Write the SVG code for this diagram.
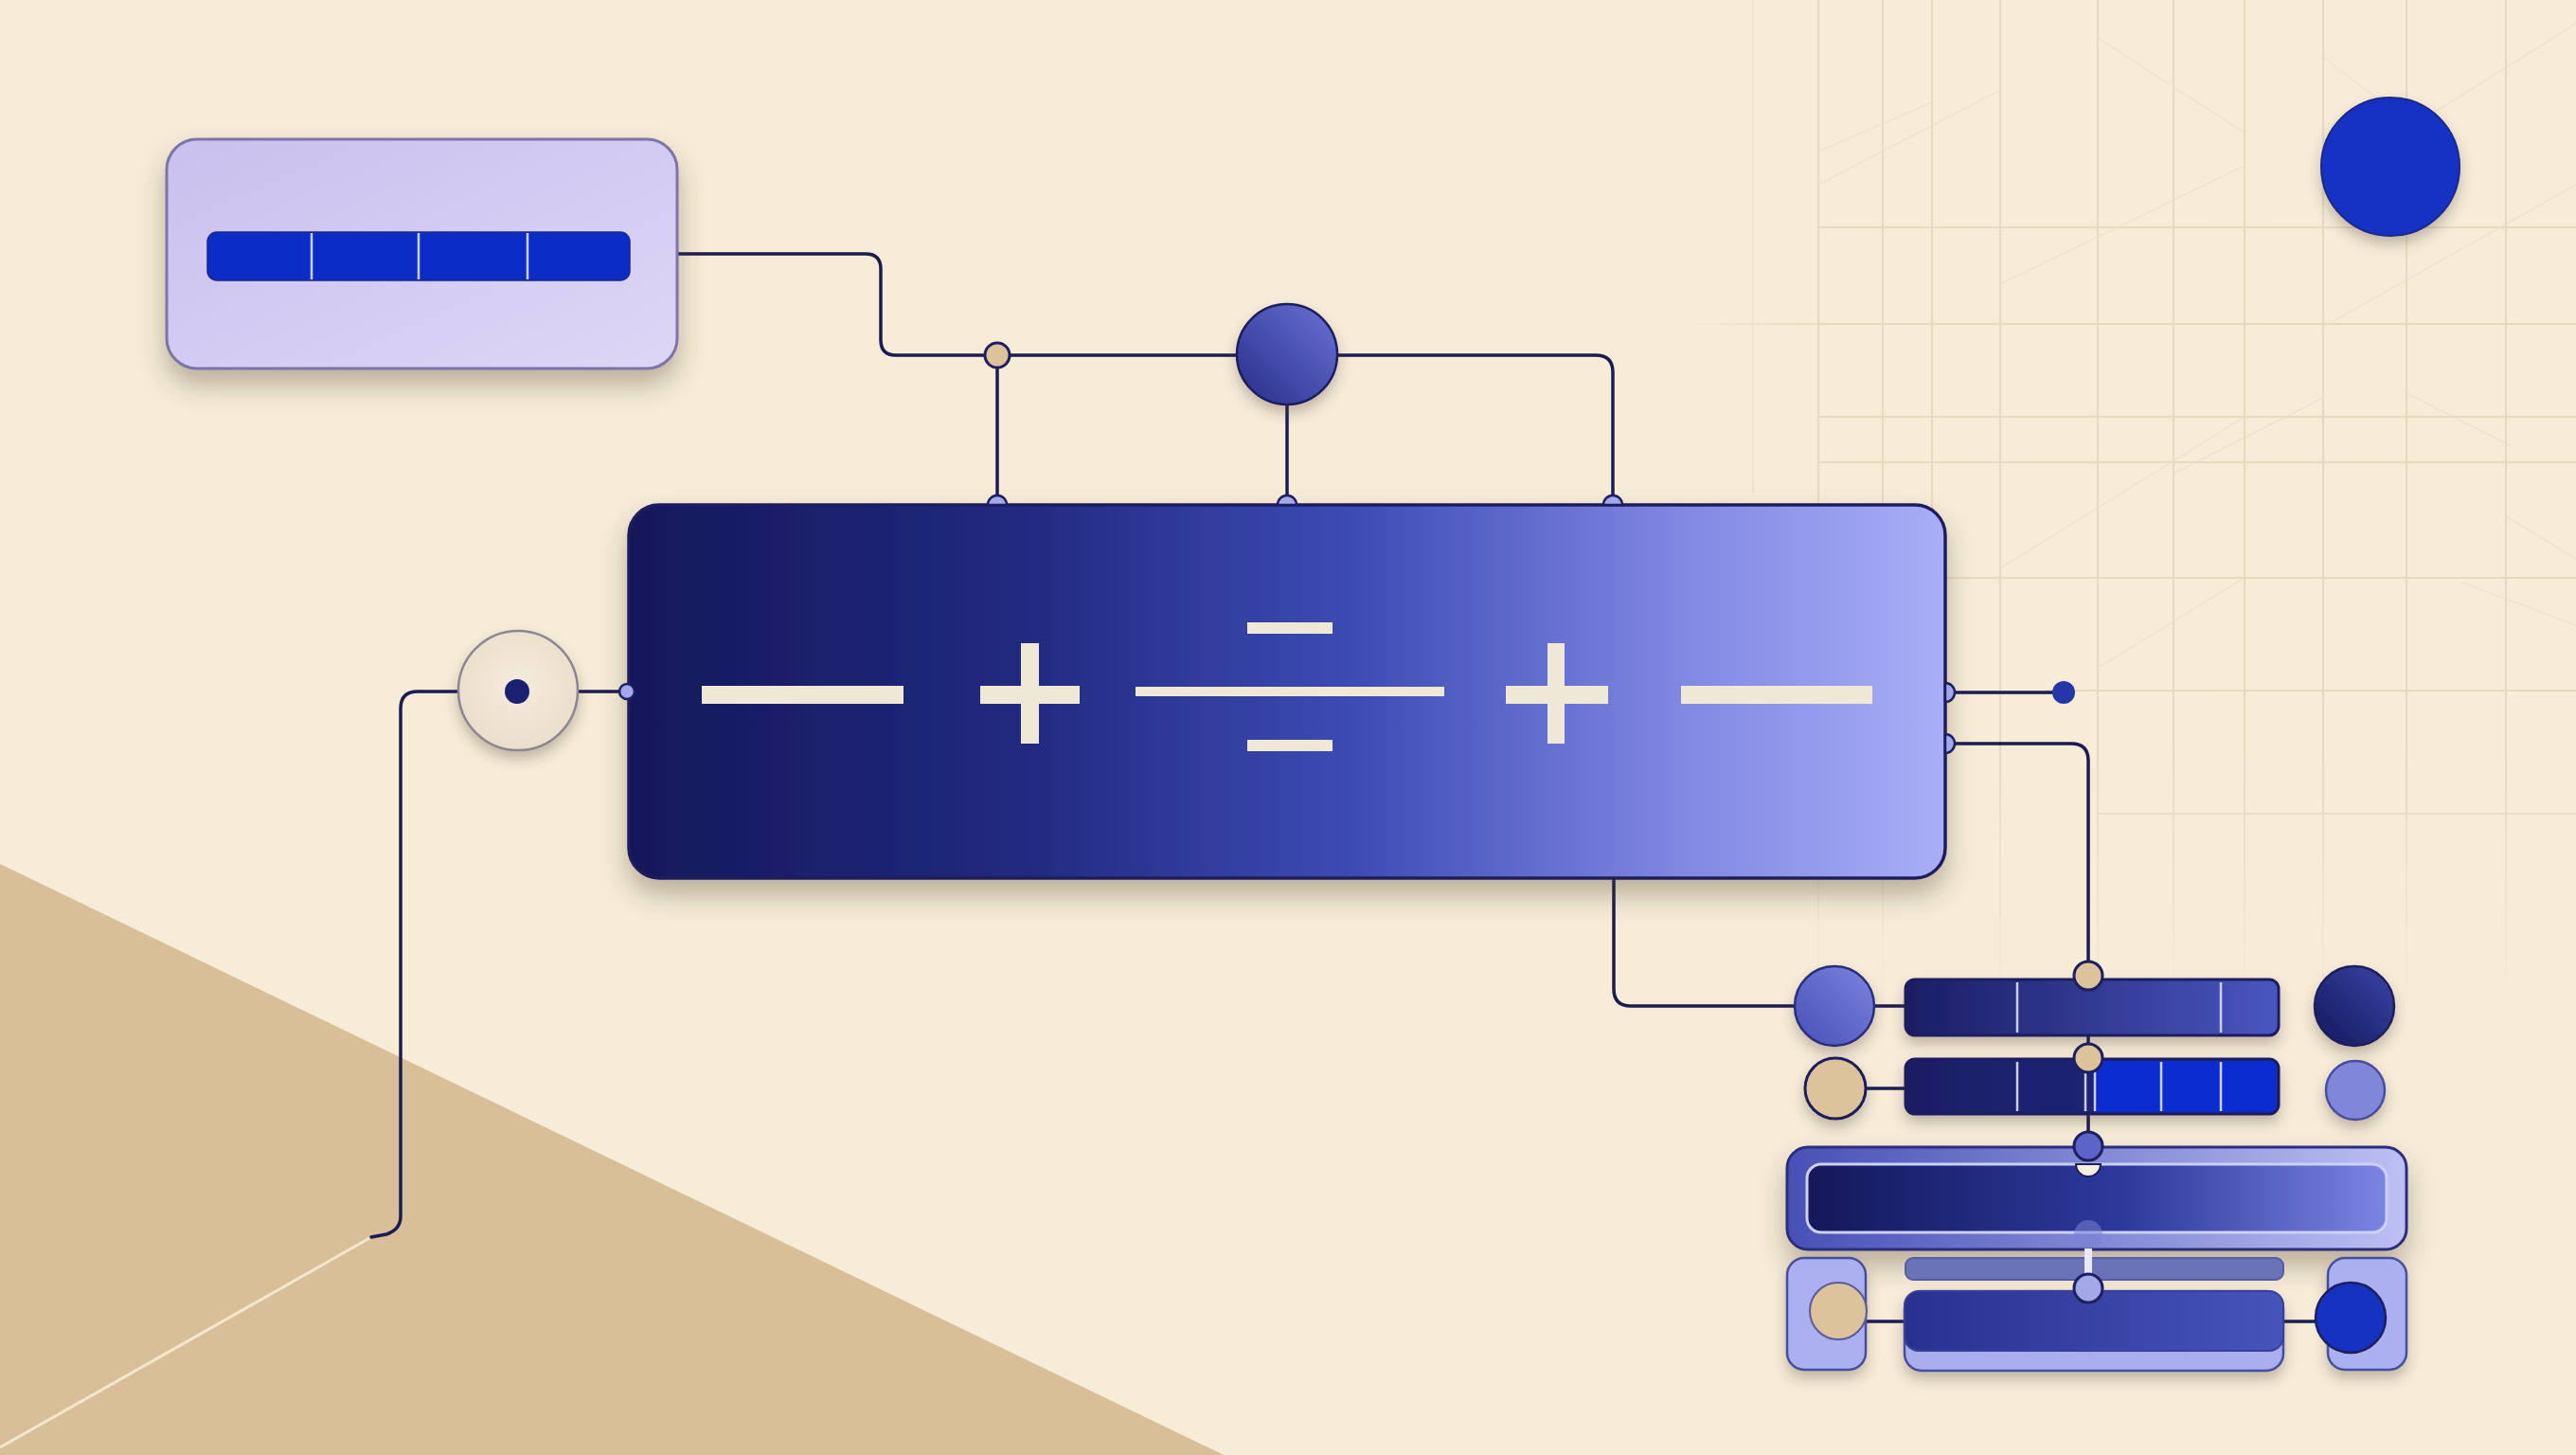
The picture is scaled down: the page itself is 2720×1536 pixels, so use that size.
<svg xmlns="http://www.w3.org/2000/svg" width="2720" height="1536" viewBox="0 0 2720 1536">
  <defs>
    <style>
      .wire{fill:none;stroke:#1b1c52;stroke-width:3.5;stroke-linecap:round;stroke-linejoin:round}
      .grid line{stroke:#e4d5b8;stroke-width:2}
      .diag line{stroke:#e8dbc1;stroke-width:1.5}
      .sym{fill:#efe8d7}
      .port{fill:#a3a8ec;stroke:#1e1f5e;stroke-width:2.5}
      .tanj{fill:#dcc39b;stroke:#1e1f5e;stroke-width:3}
      .div{stroke:#cdd0f6;stroke-width:2.5}
    </style>
    <filter id="sh" x="-20%" y="-20%" width="140%" height="160%">
      <feDropShadow dx="0" dy="16" stdDeviation="14" flood-color="#4a3a2c" flood-opacity="0.35"/>
    </filter>
    <filter id="shs" x="-40%" y="-40%" width="180%" height="200%">
      <feDropShadow dx="0" dy="8" stdDeviation="7" flood-color="#4a3a2c" flood-opacity="0.3"/>
    </filter>
    <linearGradient id="gMain" x1="0" y1="0" x2="1" y2="0">
      <stop offset="0" stop-color="#15185a"/>
      <stop offset="0.3" stop-color="#222a80"/>
      <stop offset="0.55" stop-color="#3d4bb4"/>
      <stop offset="0.8" stop-color="#8088e2"/>
      <stop offset="1" stop-color="#a9aef6"/>
    </linearGradient>
    <linearGradient id="gTop" x1="0" y1="0" x2="1" y2="1">
      <stop offset="0" stop-color="#c9c0ee"/>
      <stop offset="1" stop-color="#ddd6f6"/>
    </linearGradient>
    <linearGradient id="gBar1" x1="0" y1="0" x2="1" y2="0">
      <stop offset="0" stop-color="#1a1e64"/>
      <stop offset="1" stop-color="#4a56c0"/>
    </linearGradient>
    <linearGradient id="gBar2L" x1="0" y1="0" x2="1" y2="0">
      <stop offset="0" stop-color="#1a1e64"/>
      <stop offset="1" stop-color="#232c86"/>
    </linearGradient>
    <linearGradient id="gOuter" x1="0" y1="0" x2="1" y2="0">
      <stop offset="0" stop-color="#4850b6"/>
      <stop offset="1" stop-color="#bcc0f3"/>
    </linearGradient>
    <linearGradient id="gInner" x1="0" y1="0" x2="1" y2="0">
      <stop offset="0" stop-color="#14185a"/>
      <stop offset="0.55" stop-color="#2d3a9c"/>
      <stop offset="1" stop-color="#7b85e2"/>
    </linearGradient>
    <linearGradient id="gBar3" x1="0" y1="0" x2="1" y2="0">
      <stop offset="0" stop-color="#293190"/>
      <stop offset="1" stop-color="#4654ba"/>
    </linearGradient>
    <linearGradient id="gCirc" x1="1" y1="0" x2="0" y2="1">
      <stop offset="0" stop-color="#6a72d6"/>
      <stop offset="1" stop-color="#262e88"/>
    </linearGradient>
    <linearGradient id="gC1" x1="1" y1="0" x2="0" y2="1">
      <stop offset="0" stop-color="#7c84de"/>
      <stop offset="1" stop-color="#4650b8"/>
    </linearGradient>
    <linearGradient id="gCdark" x1="1" y1="0" x2="0" y2="1">
      <stop offset="0" stop-color="#3a44a8"/>
      <stop offset="1" stop-color="#14185a"/>
    </linearGradient>
    <radialGradient id="gRing" cx="0.5" cy="0.45" r="0.6">
      <stop offset="0" stop-color="#f6ecdb"/>
      <stop offset="1" stop-color="#e9dccb"/>
    </radialGradient>
    <linearGradient id="fadeX" x1="1780" y1="0" x2="2720" y2="0" gradientUnits="userSpaceOnUse">
      <stop offset="0" stop-color="#fff" stop-opacity="0"/>
      <stop offset="0.15" stop-color="#fff" stop-opacity="0.8"/>
      <stop offset="1" stop-color="#fff" stop-opacity="0.85"/>
    </linearGradient>
    <linearGradient id="fadeY" x1="0" y1="0" x2="0" y2="1060" gradientUnits="userSpaceOnUse">
      <stop offset="0" stop-color="#fff" stop-opacity="1"/>
      <stop offset="0.75" stop-color="#fff" stop-opacity="1"/>
      <stop offset="1" stop-color="#fff" stop-opacity="0"/>
    </linearGradient>
    <mask id="gridMask" maskUnits="userSpaceOnUse" x="0" y="0" width="2720" height="1536">
      <rect x="1700" y="0" width="1020" height="1060" fill="url(#fadeX)"/>
    </mask>
    <mask id="gridMaskY" maskUnits="userSpaceOnUse" x="0" y="0" width="2720" height="1536">
      <rect x="1700" y="0" width="1020" height="1060" fill="url(#fadeY)"/>
    </mask>
  </defs>

  <rect id="background" x="0" y="0" width="2720" height="1536" fill="#f6ecd8"/>
  <polygon id="tan-field" points="0,912 1292,1536 0,1536" fill="#d8bf97"/>
  <line x1="392" y1="1306" x2="0" y2="1528" stroke="#f4e7cd" stroke-width="3"/>

  <g id="grid" mask="url(#gridMaskY)">
    <g mask="url(#gridMask)">
      <g class="grid">
        <line x1="1851" y1="0" x2="1851" y2="520"/>
        <line x1="1920" y1="0" x2="1920" y2="1060"/>
        <line x1="1988" y1="0" x2="1988" y2="1060"/>
        <line x1="2040" y1="0" x2="2040" y2="540"/>
        <line x1="2112" y1="0" x2="2112" y2="1060"/>
        <line x1="2215" y1="0" x2="2215" y2="1060"/>
        <line x1="2295" y1="0" x2="2295" y2="1060"/>
        <line x1="2370" y1="0" x2="2370" y2="1060"/>
        <line x1="2453" y1="0" x2="2453" y2="1060"/>
        <line x1="2541" y1="0" x2="2541" y2="1060"/>
        <line x1="2646" y1="0" x2="2646" y2="1060"/>
        <line x1="1920" y1="240" x2="2720" y2="240"/>
        <line x1="1698" y1="342" x2="2720" y2="342"/>
        <line x1="1920" y1="440" x2="2720" y2="440"/>
        <line x1="1920" y1="488" x2="2720" y2="488"/>
        <line x1="1920" y1="610" x2="2720" y2="610"/>
        <line x1="2160" y1="729" x2="2720" y2="729"/>
        <line x1="2215" y1="859" x2="2720" y2="859"/>
      </g>
      <g class="diag" opacity="0.6">
        <line x1="1920" y1="195" x2="2112" y2="95"/>
        <line x1="1920" y1="160" x2="2040" y2="108"/>
        <line x1="2112" y1="300" x2="2370" y2="175"/>
        <line x1="2215" y1="40" x2="2370" y2="140"/>
        <line x1="2453" y1="60" x2="2541" y2="128"/>
        <line x1="2560" y1="125" x2="2720" y2="25"/>
        <line x1="2453" y1="345" x2="2720" y2="195"/>
        <line x1="2112" y1="600" x2="2370" y2="440"/>
        <line x1="2541" y1="415" x2="2650" y2="470"/>
        <line x1="2646" y1="545" x2="2720" y2="590"/>
        <line x1="2215" y1="705" x2="2370" y2="610"/>
        <line x1="2600" y1="615" x2="2720" y2="660"/>
        <line x1="2295" y1="500" x2="2453" y2="420"/>
      </g>
    </g>
  </g>

  <g id="connectors">
    <path class="wire" d="M715 268 H914 Q930 268 930 284 V359 Q930 375 946 375 H1306"/>
    <path class="wire" d="M1053 388 V532"/>
    <path class="wire" d="M1359 427 V532"/>
    <path class="wire" d="M1412 375 H1685 Q1703 375 1703 393 V532"/>
    <path class="wire" d="M484 730 H441 Q423 730 423 748 V1284 Q423 1298 408 1303 L392 1306"/>
    <path class="wire" d="M546 730 H663"/>
    <path class="wire" d="M2054 731 H2170"/>
    <path class="wire" d="M2054 785 H2187 Q2205 785 2205 803 V1360"/>
    <path class="wire" d="M1704 927 V1044 Q1704 1062 1722 1062 H1900"/>
    <path class="wire" d="M1975 1062 H2015"/>
    <path class="wire" d="M1968 1149 H2015"/>
    <path class="wire" d="M1968 1395 H2015"/>
    <path class="wire" d="M2408 1395 H2450"/>
  </g>

  <g id="node-source">
    <rect x="176" y="147" width="539" height="242" rx="32" fill="url(#gTop)" stroke="#7b74aa" stroke-width="3" filter="url(#sh)"/>
    <rect x="219" y="245" width="446" height="51" rx="10" fill="#0b2cc6" stroke="#1a2a8a" stroke-width="1.5"/>
    <line x1="329" y1="246" x2="329" y2="295" class="div"/>
    <line x1="442" y1="246" x2="442" y2="295" class="div"/>
    <line x1="557" y1="246" x2="557" y2="295" class="div"/>
  </g>

  <g id="node-junction-top">
    <circle cx="1053" cy="375" r="13" class="tanj"/>
  </g>

  <g id="node-hub">
    <circle cx="1359" cy="374" r="53" fill="url(#gCirc)" stroke="#1e1f5e" stroke-width="2.5" filter="url(#shs)"/>
  </g>

  <g id="node-input">
    <circle cx="547" cy="729" r="63" fill="url(#gRing)" stroke="#8d8590" stroke-width="2.5" filter="url(#shs)"/>
    <circle cx="546" cy="730" r="13" fill="#1c2070"/>
  </g>

  <g id="node-equation">
    <rect x="664" y="533" width="1390" height="394" rx="32" fill="url(#gMain)" stroke="#1e1f5e" stroke-width="3.5" filter="url(#sh)"/>
    <rect x="741" y="724" width="213" height="19" class="sym"/>
    <rect x="1035" y="724" width="105" height="19" class="sym"/>
    <rect x="1078" y="679" width="19" height="106" class="sym"/>
    <rect x="1199" y="725" width="326" height="10" class="sym"/>
    <rect x="1317" y="657" width="90" height="12" class="sym"/>
    <rect x="1317" y="781" width="90" height="12" class="sym"/>
    <rect x="1590" y="724" width="108" height="19" class="sym"/>
    <rect x="1634" y="679" width="18" height="106" class="sym"/>
    <rect x="1775" y="724" width="202" height="19" class="sym"/>
    <path class="port" d="M1043 533 A10 10 0 0 1 1063 533 Z"/>
    <path class="port" d="M1349 533 A10 10 0 0 1 1369 533 Z"/>
    <path class="port" d="M1693 533 A10 10 0 0 1 1713 533 Z"/>
    <circle class="port" cx="662" cy="730" r="8"/>
    <path class="port" d="M2054 721 A10 10 0 0 1 2054 741 Z"/>
    <path class="port" d="M2054 775 A10 10 0 0 1 2054 795 Z"/>
  </g>

  <g id="node-output-dot">
    <circle cx="2179" cy="731" r="12" fill="#2536a6"/>
  </g>

  <g id="node-top-dot">
    <circle cx="2524" cy="176" r="73" fill="#1530c2" stroke="#1a2a8a" stroke-width="2" filter="url(#shs)"/>
  </g>

  <g id="node-row1">
    <circle cx="1937" cy="1062" r="42" fill="url(#gC1)" stroke="#2a2e7a" stroke-width="2.5" filter="url(#shs)"/>
    <rect x="2012" y="1034" width="394" height="59" rx="10" fill="url(#gBar1)" stroke="#1e1f5e" stroke-width="3" filter="url(#shs)"/>
    <line x1="2130" y1="1037" x2="2130" y2="1090" class="div"/>
    <line x1="2345" y1="1037" x2="2345" y2="1090" class="div"/>
    <circle cx="2486" cy="1062" r="42" fill="url(#gCdark)" stroke="#1e1f5e" stroke-width="2.5" filter="url(#shs)"/>
    <circle cx="2205" cy="1030" r="15" class="tanj"/>
  </g>

  <g id="node-row2">
    <circle cx="1938" cy="1149" r="32" fill="#dcc39b" stroke="#1e1f5e" stroke-width="3" filter="url(#shs)"/>
    <rect x="2012" y="1118" width="394" height="58" rx="10" fill="url(#gBar2L)" stroke="#1e1f5e" stroke-width="3" filter="url(#shs)"/>
    <path d="M2212 1120 H2396 Q2404 1120 2404 1128 V1166 Q2404 1174 2396 1174 H2212 Z" fill="#0b2dd0"/>
    <line x1="2130" y1="1121" x2="2130" y2="1173" class="div"/>
    <line x1="2202" y1="1121" x2="2202" y2="1173" class="div"/>
    <line x1="2212" y1="1121" x2="2212" y2="1173" class="div"/>
    <line x1="2282" y1="1121" x2="2282" y2="1173" class="div"/>
    <line x1="2345" y1="1121" x2="2345" y2="1173" class="div"/>
    <circle cx="2487" cy="1151" r="31" fill="#8087d8" stroke="#4a4ea0" stroke-width="2.5" filter="url(#shs)"/>
    <circle cx="2205" cy="1117" r="15" class="tanj"/>
  </g>

  <g id="node-panel">
    <rect x="1887" y="1211" width="654" height="108" rx="22" fill="url(#gOuter)" stroke="#2b2e7c" stroke-width="3" filter="url(#sh)"/>
    <rect x="1908" y="1229" width="612" height="72" rx="15" fill="url(#gInner)" stroke="#cdd0f8" stroke-width="3"/>
    <path d="M2192 1229 A13 13 0 0 0 2218 1229 Z" fill="#f5efdf" stroke="#1e1f5e" stroke-width="2"/>
    <circle cx="2205" cy="1210" r="15" fill="#5b64c8" stroke="#1e1f5e" stroke-width="3"/>
    <circle cx="2205" cy="1303" r="15" fill="#7a82d2" opacity="0.55"/>
  </g>

  <g id="node-lower">
    <rect x="1887" y="1328" width="83" height="118" rx="18" fill="#aab0f0" stroke="#4a4e9e" stroke-width="2.5" filter="url(#shs)"/>
    <rect x="2458" y="1328" width="83" height="118" rx="18" fill="#aab0f0" stroke="#4a4e9e" stroke-width="2.5" filter="url(#shs)"/>
    <rect x="2012" y="1328" width="399" height="23" rx="8" fill="#6a72b8" stroke="#565ca8" stroke-width="2"/>
    <rect x="2011" y="1363" width="400" height="84" rx="18" fill="#a9aeee" stroke="#4a4e9e" stroke-width="2.5" filter="url(#shs)"/>
    <rect x="2011" y="1363" width="400" height="63" rx="15" fill="url(#gBar3)" stroke="#3a3f98" stroke-width="2"/>
    <rect x="2201" y="1318" width="8" height="30" fill="#e8e9fb"/>
    <circle cx="1941" cy="1384" r="30" fill="#dcc39b" stroke="#5a5a9a" stroke-width="2"/>
    <circle cx="2482" cy="1391" r="37" fill="#1533c0" stroke="#1e1f5e" stroke-width="2.5"/>
    <circle cx="2205" cy="1360" r="15" fill="#a3a9e8" stroke="#1e1f5e" stroke-width="3"/>
  </g>
</svg>
